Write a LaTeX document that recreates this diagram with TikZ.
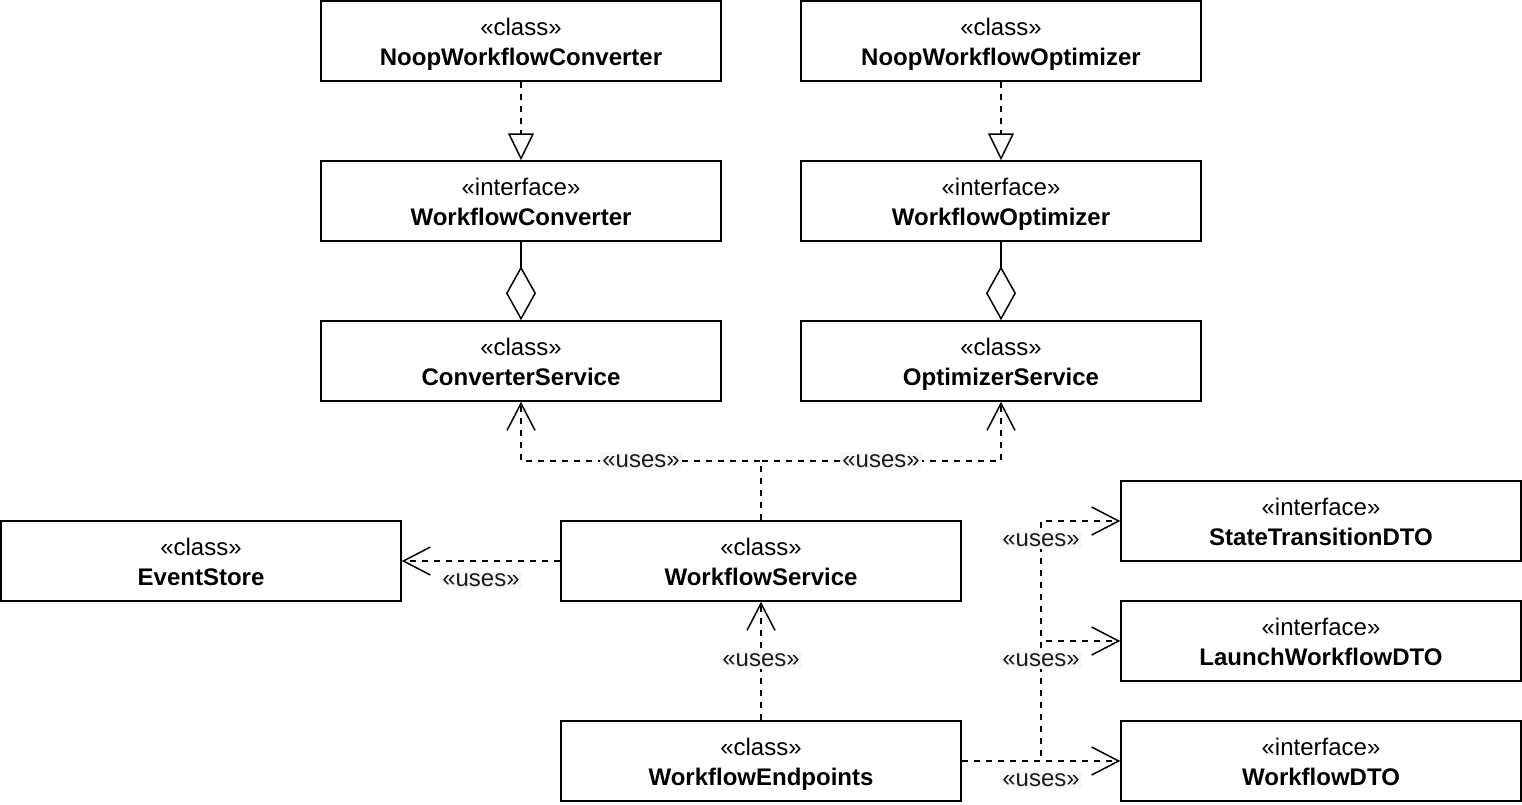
\documentclass[tikz,border=0pt]{standalone}
\usepackage{fontspec}
\setmainfont{Liberation Sans}
\usetikzlibrary{arrows.meta}
\definecolor{lblbg}{RGB}{246,247,249}
\newcommand{\bxstrut}{\rule[-6pt]{0pt}{30pt}}
\newcommand{\umltext}[2]{\bxstrut#1\\\bxstrut\textbf{#2}}
\tikzset{
  x=1pt,y=-1pt,
  umlbox/.style={draw=black, line width=1.5pt, fill=white, minimum width=400pt, minimum height=80pt, inner sep=0pt, align=center, font=\fontsize{24}{30}\selectfont},
  conn/.style={line width=1.5pt, dash pattern=on 6pt off 6pt},
  usesarrow/.style={conn, -{Straight Barb[length=27pt, width=28pt, line width=1.5pt]}},
  realize/.style={conn, -{Triangle[open, length=27pt, width=26pt, line width=1.5pt, fill=white]}},
  aggr/.style={line width=1.5pt, {Diamond[open, length=54pt, width=30pt, line width=1.5pt, fill=white]}-},
  lbl/.style={fill=lblbg, inner sep=2pt, text=black!90, font=\fontsize{24}{26}\selectfont},
}
\begin{document}
\begin{tikzpicture}
\useasboundingbox (0,0) rectangle (1522,804);
% boxes
\node[umlbox] (nwc) at (521,41) {\umltext{«class»}{NoopWorkflowConverter}};
\node[umlbox] (nwo) at (1001,41) {\umltext{«class»}{NoopWorkflowOptimizer}};
\node[umlbox] (wc) at (521,201) {\umltext{«interface»}{WorkflowConverter}};
\node[umlbox] (wo) at (1001,201) {\umltext{«interface»}{WorkflowOptimizer}};
\node[umlbox] (cs) at (521,361) {\umltext{«class»}{ConverterService}};
\node[umlbox] (os) at (1001,361) {\umltext{«class»}{OptimizerService}};
\node[umlbox] (es) at (201,561) {\umltext{«class»}{EventStore}};
\node[umlbox] (ws) at (761,561) {\umltext{«class»}{WorkflowService}};
\node[umlbox] (we) at (761,761) {\umltext{«class»}{WorkflowEndpoints}};
\node[umlbox] (st) at (1321,521) {\umltext{«interface»}{StateTransitionDTO}};
\node[umlbox] (lw) at (1321,641) {\umltext{«interface»}{LaunchWorkflowDTO}};
\node[umlbox] (wd) at (1321,761) {\umltext{«interface»}{WorkflowDTO}};
% coordinates
\coordinate (jtop) at (761,461);
\coordinate (jl) at (521,461);
\coordinate (jr) at (1001,461);
\coordinate (vb) at (1041,761);
\coordinate (v1) at (1041,521);
\coordinate (v2) at (1041,641);
% realization
\draw[realize] (nwc.south) -- (wc.north);
\draw[realize] (nwo.south) -- (wo.north);
% aggregation
\draw[aggr] (cs.north) -- (wc.south);
\draw[aggr] (os.north) -- (wo.south);
% uses
\draw[usesarrow] (ws.north) -- (jtop) -- (jl) -- (cs.south);
\draw[usesarrow] (ws.north) -- (jtop) -- (jr) -- (os.south);
\draw[usesarrow] (ws.west) -- (es.east);
\draw[usesarrow] (we.north) -- (ws.south);
\draw[usesarrow] (we.east) -- (vb) -- (v1) -- (st.west);
\draw[usesarrow] (we.east) -- (vb) -- (v2) -- (lw.west);
\draw[usesarrow] (we.east) -- (wd.west);
% labels
\node[lbl] (l1) at (641,461) {«uses»};
\node[lbl] (l2) at (881,461) {«uses»};
\node[lbl] (l3) at (481,580) {«uses»};
\node[lbl] (l4) at (761,660) {«uses»};
\node[lbl] (l5) at (1041,540) {«uses»};
\node[lbl] (l6) at (1041,660) {«uses»};
\node[lbl] (l7) at (1041,780) {«uses»};
\end{tikzpicture}
\end{document}
